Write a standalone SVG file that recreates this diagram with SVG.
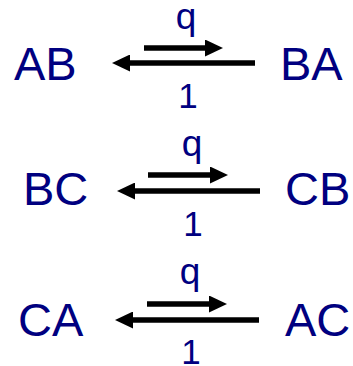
<svg xmlns="http://www.w3.org/2000/svg" width="353" height="366" viewBox="0 0 353 366">
<style>
.n{font-family:"Liberation Sans",Arial,sans-serif;font-size:47px;fill:#000080}
.l{font-family:"Liberation Sans",Arial,sans-serif;fill:#000080;text-anchor:middle}
.q{font-size:37px}
.o{font-size:35px}
.a{stroke:#000;stroke-width:5.5;fill:none;marker-end:url(#h)}
</style>
<defs>
<marker id="h" viewBox="0 0 18 17" refX="2" refY="8.5" markerWidth="18" markerHeight="17" markerUnits="userSpaceOnUse" orient="auto">
<path d="M0,0 L18,8.5 L0,17 z" fill="#000"/>
</marker>
</defs>
<rect width="353" height="366" fill="#fff"/>
<g id="AB"><text class="n" x="14" y="80">AB</text></g>
<g id="BA"><text class="n" x="280" y="80">BA</text></g>
<g id="BC"><text class="n" x="23" y="205">BC</text></g>
<g id="CB"><text class="n" x="285" y="205">CB</text></g>
<g id="CA"><text class="n" x="18" y="336">CA</text></g>
<g id="AC"><text class="n" x="285" y="336">AC</text></g>
<g id="connectors">
<line class="a" x1="144" y1="48" x2="207" y2="48"/>
<line class="a" x1="255" y1="63" x2="128" y2="63"/>
<line class="a" x1="148" y1="175" x2="212" y2="175"/>
<line class="a" x1="260" y1="191" x2="133" y2="191"/>
<line class="a" x1="147" y1="304" x2="211" y2="304"/>
<line class="a" x1="259" y1="320" x2="131" y2="320"/>
</g>
<g id="labels">
<text class="l q" x="186" y="29">q</text>
<text class="l o" x="188" y="108">1</text>
<text class="l q" x="192" y="156">q</text>
<text class="l o" x="193" y="236">1</text>
<text class="l q" x="190" y="284">q</text>
<text class="l o" x="191" y="364">1</text>
</g>
</svg>
